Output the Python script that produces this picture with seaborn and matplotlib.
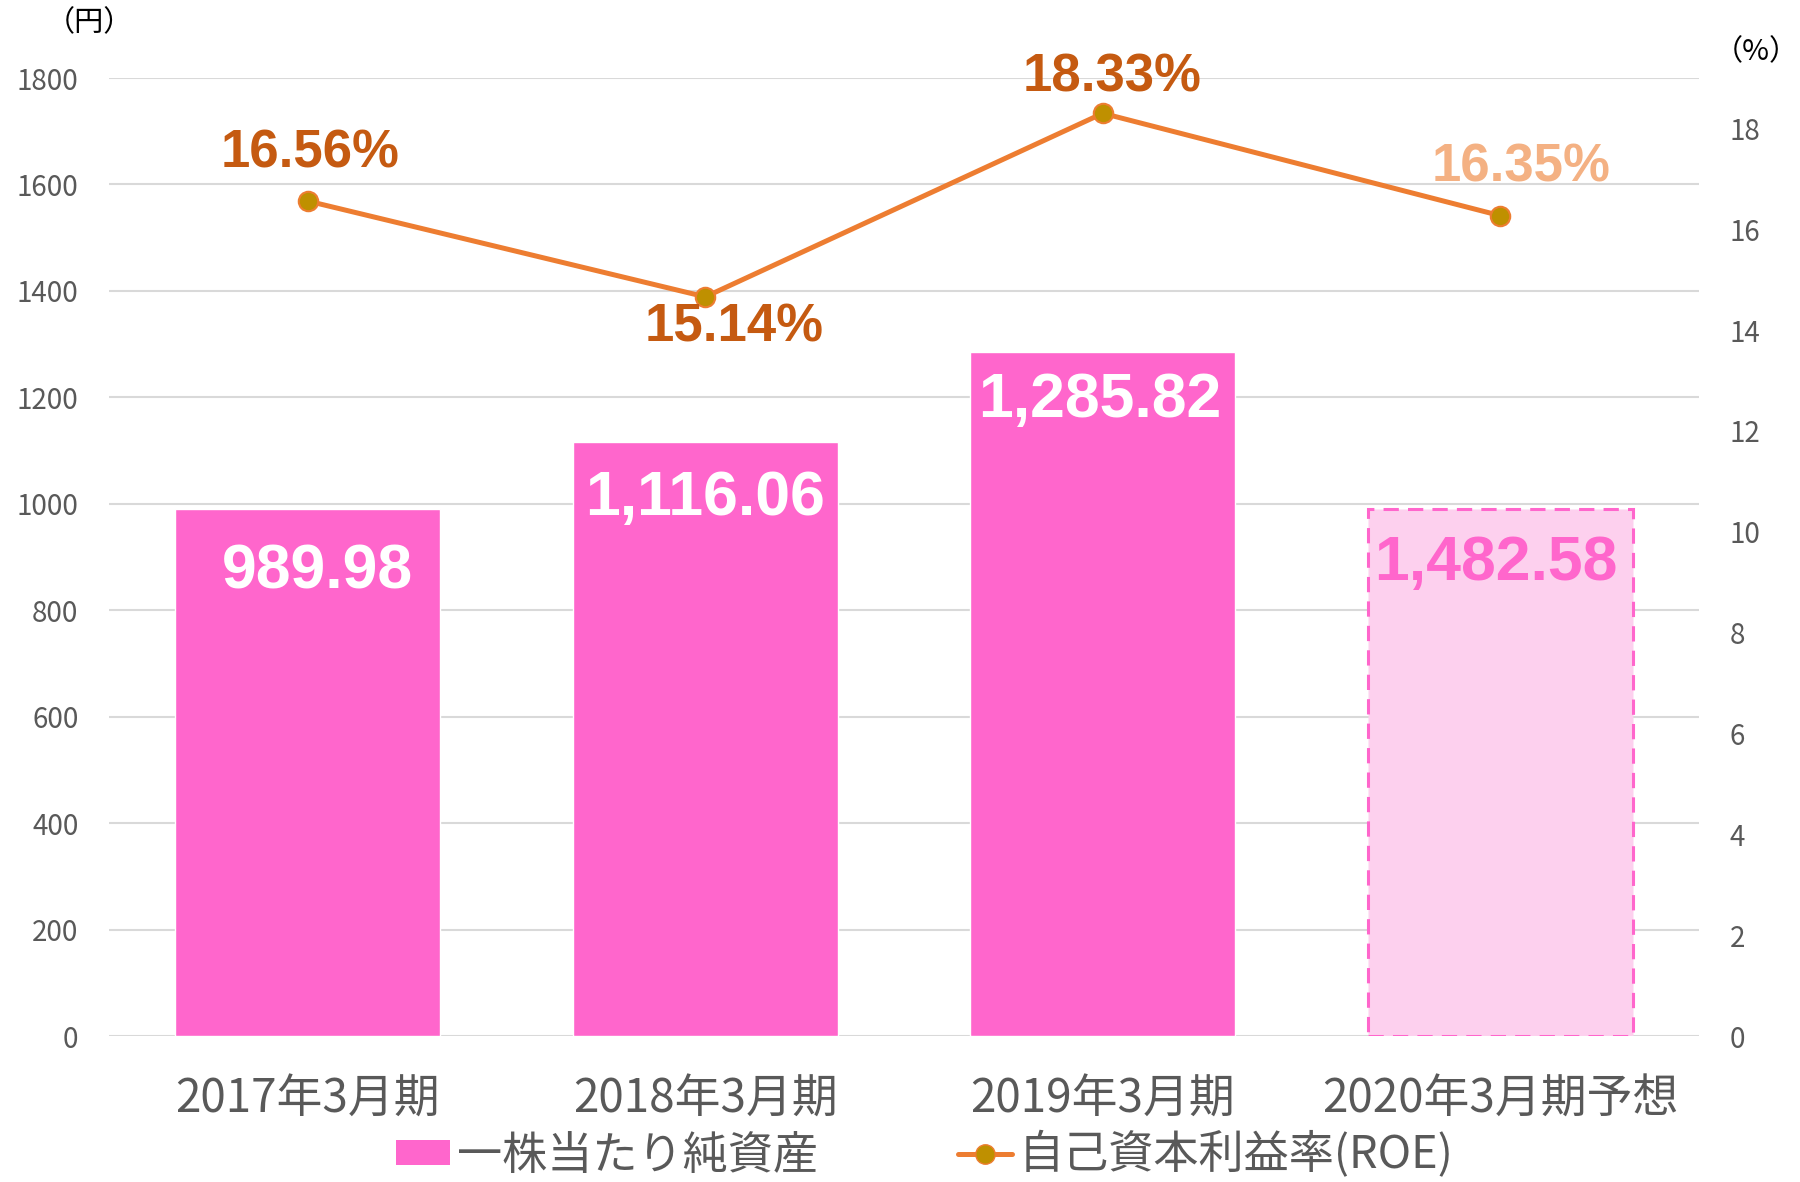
import numpy as np
import pandas as pd
import seaborn as sns
import matplotlib.pyplot as plt
from matplotlib.patches import Patch
from matplotlib.lines import Line2D

categories = ["2017年3月期", "2018年3月期", "2019年3月期", "2020年3月期予想"]
bps = [989.98, 1116.06, 1285.82, 989.98]          # bar heights as drawn
bps_labels = ["989.98", "1,116.06", "1,285.82", "1,482.58"]
roe = [16.56, 14.66, 18.3, 16.27]                  # points as drawn
roe_labels = ["16.56%", "15.14%", "18.33%", "16.35%"]
left_ticks = list(range(0, 1801, 200))
right_ticks = list(range(0, 19, 2))

sns.set_theme(style="white")
plt.rcParams["font.family"] = ["Noto Sans CJK JP", "DejaVu Sans"]

pink = "#FF66CC"
light_pink = "#FDD0EE"
orange = "#ED7D31"
gold = "#BF9000"
grey = "#595959"

fig = plt.figure(figsize=(18, 11.82), dpi=100)
ax = fig.add_axes([0.0606, 0.1235, 0.8833, 0.8105])

df = pd.DataFrame({"cat": categories, "bps": bps})
sns.barplot(data=df, x="cat", y="bps", color=pink, saturation=1, width=0.667, ax=ax)
fc = ax.patches[3]
fc.set_facecolor(light_pink)
fc.set_edgecolor(pink)
fc.set_linewidth(2.2)
fc.set_linestyle((0, (5, 3)))

ax.set_ylim(0, 1800)
ax.set_xlim(-0.5, 3.5)
ax.set_yticks(left_ticks)
ax.yaxis.grid(True, color="#D9D9D9", linewidth=1.5)
ax.set_axisbelow(True)
for s in ax.spines.values():
    s.set_visible(False)
ax.set_xlabel("")
ax.set_ylabel("")
ax.tick_params(axis="y", length=0, pad=22, labelsize=20, labelcolor=grey)
ax.tick_params(axis="x", length=0, pad=28, labelsize=33, labelcolor=grey)

# bar value labels
bar_colors = ["white", "white", "white", pink]
bar_off = [(7, -45), (0, -41), (-2, -35), (-3, -39)]
for i, p in enumerate(ax.patches[:4]):
    ax.annotate(bps_labels[i], (p.get_x() + p.get_width() / 2, p.get_height()),
                xytext=bar_off[i], textcoords="offset points",
                ha="center", va="center", fontsize=45, fontweight="bold",
                color=bar_colors[i], family=["Liberation Sans", "DejaVu Sans"])

# ROE line on right axis
ax2 = ax.twinx()
sns.pointplot(x=categories, y=roe, color=orange, markers="o", linestyles="-",
              ax=ax2, markersize=14, linewidth=3.6,
              markerfacecolor=gold, markeredgecolor=orange, markeredgewidth=1.5)
ax2.set_ylim(0, 19)
ax2.set_xlim(-0.5, 3.5)
ax2.set_yticks(right_ticks)
for s in ax2.spines.values():
    s.set_visible(False)
ax2.set_ylabel("")
ax2.tick_params(axis="y", length=0, pad=22, labelsize=20, labelcolor=grey)
ax2.grid(False)

roe_colors = ["#C55A11", "#C55A11", "#C55A11", "#F4B183"]
roe_off = [(1.5, 34), (21, -22), (6.5, 26), (15, 35)]
for i, v in enumerate(roe):
    ax2.annotate(roe_labels[i], (i, v), xytext=roe_off[i], textcoords="offset points",
                 ha="center", va="center", fontsize=38, fontweight="bold",
                 color=roe_colors[i], family=["Liberation Sans", "DejaVu Sans"])

fig.text(89 / 1800, 1 - 23 / 1182, "（円）", ha="center", va="center", fontsize=21, color="black")
fig.text(1756 / 1800, 1 - 52 / 1182, "（%）", ha="center", va="center", fontsize=21, color="black")

handles = [Patch(facecolor=pink, edgecolor="none"),
           Line2D([], [], color=orange, linewidth=3.6, marker="o", markersize=14,
                  markerfacecolor=gold, markeredgecolor=orange)]
fig.legend(handles, ["一株当たり純資産", "自己資本利益率(ROE)"], loc="center",
           bbox_to_anchor=(925 / 1800, 1 - 1155 / 1182), ncol=2, frameon=False,
           fontsize=32.5, labelcolor=grey, handlelength=1.2, handleheight=0.5,
           handletextpad=0.15, columnspacing=3.1, borderpad=0)

fig.savefig("out.png", dpi=100)
